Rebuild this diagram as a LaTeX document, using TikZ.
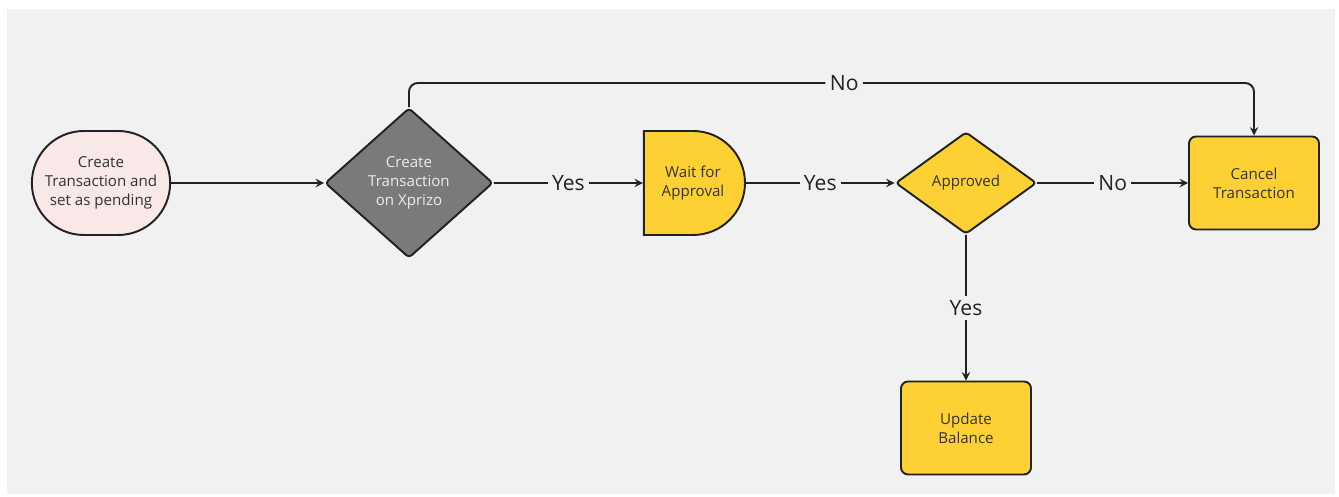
\documentclass[tikz,border=0pt]{standalone}
\usepackage{fontspec}
\setmainfont{Open Sans}
\usepackage{tikz}
\definecolor{bggray}{HTML}{F1F1F1}
\definecolor{flowyellow}{HTML}{FDD033}
\definecolor{flowpink}{HTML}{F8E8E8}
\definecolor{flowgray}{HTML}{7A7A7A}
\definecolor{linegray}{HTML}{222222}
\usetikzlibrary{positioning, arrows, shapes}
\usetikzlibrary{shapes.geometric, shapes.misc}
\tikzstyle{arrow} = [line width=1.1pt,->,>=stealth,draw=linegray]

\begin{document}
\begin{tikzpicture}
                \tikzstyle{every node}=[font=\fontsize{8.6}{10.8}\selectfont, text=black!80, align=center]
                \tikzstyle{term} = [rounded rectangle, draw=linegray, line width=1.1pt, fill=flowpink, minimum width=3cm, minimum height=2.08cm]
                \tikzstyle{decision} = [diamond, draw=linegray, line width=1.1pt, fill=flowyellow, inner sep=0pt, rounded corners=2pt]
                \tikzstyle{delay} = [rounded rectangle, rounded rectangle left arc=none, draw=linegray, line width=1.1pt, fill=flowyellow, minimum width=2.06cm, minimum height=2.08cm]
                \tikzstyle{box} = [rectangle, rounded corners=4pt, draw=linegray, line width=1.1pt, fill=flowyellow, minimum width=2.6cm, minimum height=1.86cm]
                \tikzstyle{lbl} = [fill=bggray, font=\fontsize{12}{14}\selectfont, text=linegray, inner sep=2.5pt]

                \useasboundingbox (0,0) rectangle (26.78,9.94);
                \fill[bggray] (0.14,0.06) rectangle (26.7,9.76);

                \node[term](t1) at (2.02,6.28) {Create\\Transaction and\\set as pending};
                \node[decision, fill=flowgray, text=white!92!black, minimum width=3.36cm, minimum height=3cm](d1) at (8.18,6.28) {Create\\Transaction\\on Xprizo};
                \node[delay](w1) at (13.86,6.28) {Wait for\\Approval};
                \node[decision, minimum width=2.82cm, minimum height=2.04cm](d2) at (19.32,6.28) {Approved};
                \node[box](p1) at (25.08,6.28) {Cancel\\Transaction};
                \node[box](p2) at (19.32,1.38) {Update\\Balance};

                % main line
                \draw[arrow] (t1) -- (d1);
                \draw[arrow] (d1) -- node[lbl]{Yes} (w1);
                \draw[arrow] (w1) -- node[lbl]{Yes} (d2);
                \draw[arrow] (d2) -- node[lbl]{No} (p1);
                \draw[arrow] (d2) -- node[lbl]{Yes} (p2);

                % hidden corners for the top line
                \coordinate (h1) at (8.18,8.28);
                \coordinate (h2) at (25.08,8.28);
                \draw[arrow, rounded corners=5pt] (d1.north) -- (h1) -- node[lbl, pos=0.515]{No} (h2) -- (p1.north);

        \end{tikzpicture}
\end{document}
